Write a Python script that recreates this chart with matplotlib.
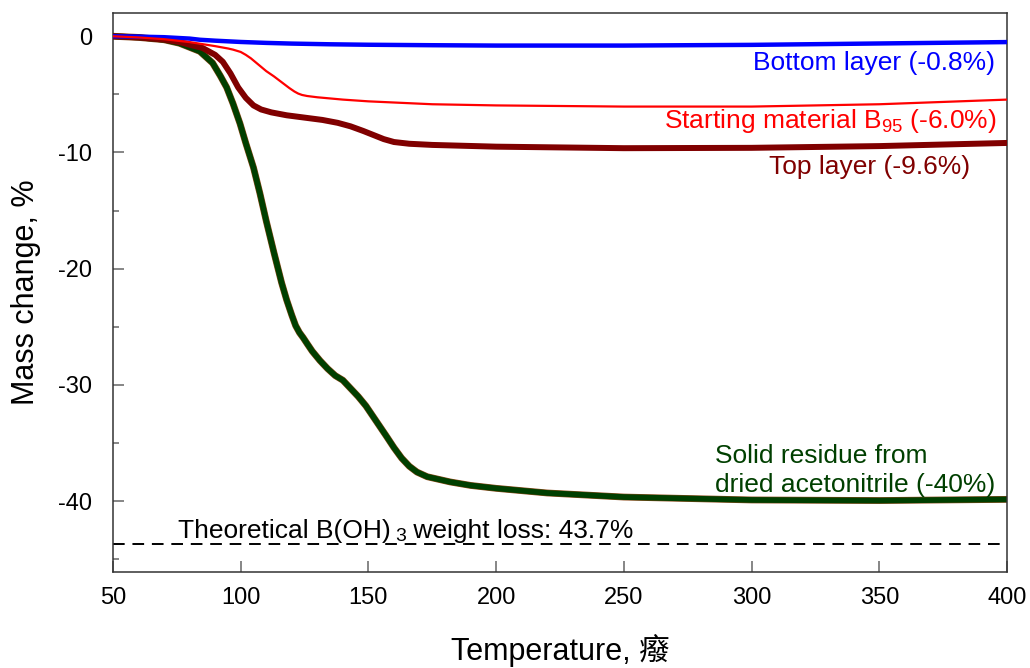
import matplotlib
matplotlib.use("Agg")
import matplotlib.pyplot as plt
from matplotlib.ticker import MultipleLocator

plt.rcParams['font.family'] = ['Liberation Sans', 'Noto Sans CJK TC', 'DejaVu Sans']
plt.rcParams['mathtext.fontset'] = 'custom'
plt.rcParams['mathtext.rm'] = 'Liberation Sans'
plt.rcParams['mathtext.it'] = 'Liberation Sans:italic'
plt.rcParams['mathtext.default'] = 'rm'

# Thermogravimetric curves: temperature (°C) vs mass change (%)
bottom_T = [50, 60, 70, 80, 84, 90, 100, 110, 120, 135, 150, 175, 200, 250, 300, 350, 400]
bottom_m = [0, -0.03, -0.08, -0.2, -0.3, -0.38, -0.49, -0.57, -0.63, -0.69, -0.73, -0.77, -0.8, -0.8, -0.74, -0.62, -0.5]

start_T = [50, 60, 70, 80, 90, 95, 97, 100, 102, 104, 107, 110, 113, 116, 119, 121, 122.5,
           124, 126, 130, 140, 150, 175, 200, 250, 300, 350, 400]
start_m = [0, -0.1, -0.25, -0.5, -0.85, -1.05, -1.15, -1.35, -1.6, -1.9, -2.45, -3.0, -3.45,
           -3.95, -4.45, -4.75, -4.93, -5.05, -5.14, -5.25, -5.45, -5.6, -5.85, -5.95,
           -6.05, -6.05, -5.85, -5.45]

top_T = [50, 60, 70, 76, 85, 90, 93, 96, 99, 102, 105, 108, 112, 118, 125, 132, 138, 143,
         148, 152, 156, 160, 166, 175, 200, 250, 300, 350, 400]
top_m = [0, -0.1, -0.28, -0.5, -1.0, -1.6, -2.2, -3.2, -4.4, -5.3, -5.95, -6.3, -6.55, -6.8,
         -7.0, -7.2, -7.45, -7.75, -8.15, -8.5, -8.85, -9.1, -9.25, -9.35, -9.5, -9.63,
         -9.6, -9.45, -9.18]

resid_T = [50, 60, 70, 76, 80, 84, 89, 92, 94.5, 97, 99.7, 102, 105, 107.5, 110, 113, 116,
           118, 120, 121.5, 123, 124.5, 126, 128, 131, 134, 137, 140, 143, 146, 149, 153,
           157, 160, 163, 166, 169, 173, 182, 190, 200, 220, 250, 300, 350, 400]
resid_m = [0, -0.1, -0.3, -0.6, -0.95, -1.3, -2.3, -3.4, -4.4, -5.8, -7.5, -9.2, -11.3,
           -13.5, -15.9, -18.6, -21.2, -22.7, -24.0, -24.9, -25.5, -25.95, -26.45, -27.1,
           -27.9, -28.6, -29.2, -29.6, -30.3, -31.0, -31.8, -33.1, -34.4, -35.4, -36.3,
           -37.0, -37.5, -37.9, -38.35, -38.65, -38.9, -39.3, -39.65, -39.9, -39.95, -39.85]

theoretical_loss = 43.7

x_ticks = [50, 100, 150, 200, 250, 300, 350, 400]
y_ticks = [0, -10, -20, -30, -40]

fig = plt.figure(figsize=(10.30, 6.68), dpi=100)
ax = fig.add_axes([0.1097, 0.1437, 0.868, 0.8368])

ax.plot(bottom_T, bottom_m, color='#0000FF', lw=3.2, solid_capstyle='round', zorder=4)
ax.plot(start_T, start_m, color='#FF0000', lw=1.6, solid_capstyle='round', zorder=5)
ax.plot(top_T, top_m, color='#800000', lw=4.3, solid_capstyle='round', zorder=3)
ax.plot(resid_T, resid_m, color='#8B4A1A', lw=4.9, solid_capstyle='round', zorder=2)
ax.plot(resid_T, resid_m, color='#003F00', lw=4.1, solid_capstyle='round', zorder=2.5)

ax.axhline(-theoretical_loss, color='black', lw=1.4, ls=(0, (6, 4)), zorder=1)

ax.set_xlim(50, 400)
ax.set_ylim(-46.1, 2.0)
ax.set_xticks(x_ticks)
ax.set_xticklabels([str(v) for v in x_ticks])
ax.set_yticks(y_ticks)
ax.set_yticklabels([str(v) for v in y_ticks])
ax.yaxis.set_minor_locator(MultipleLocator(5))

ax.tick_params(axis='both', which='both', direction='in', colors='#666666',
               labelcolor='black', labelsize=17)
ax.tick_params(axis='x', which='major', length=8, width=1.1, pad=11)
ax.tick_params(axis='y', which='major', length=8, width=1.1, pad=15)
ax.tick_params(axis='y', which='minor', length=4.5, width=1.1)
ax.tick_params(top=False, right=False, which='both')

for sp in ax.spines.values():
    sp.set_color('#333333')
    sp.set_linewidth(1.1)

ax.set_xlabel('Temperature, 癈', fontsize=22, labelpad=18)
ax.set_ylabel('Mass change, %', fontsize=22, labelpad=12)

fs = 19
ax.text(395.3, -2.86, 'Bottom layer (-0.8%)', color='#0000FF', fontsize=fs,
        ha='right', va='baseline')
ax.text(396.1, -7.91, r'Starting material B$_{\mathrm{95}}$ (-6.0%)', color='#FF0000',
        fontsize=fs, ha='right', va='baseline')
ax.text(385.5, -11.81, 'Top layer (-9.6%)', color='#800000', fontsize=fs,
        ha='right', va='baseline')
ax.text(285.7, -36.7, 'Solid residue from', color='#003F00', fontsize=fs,
        ha='left', va='baseline')
ax.text(285.7, -39.2, 'dried acetonitrile (-40%)', color='#003F00', fontsize=fs,
        ha='left', va='baseline')

# Theoretical loss label, with the subscript chained after the formula
t_main = ax.text(75.45, -43.2, 'Theoretical B(OH)', color='black', fontsize=fs,
                 ha='left', va='baseline')
t_sub = ax.annotate('3', xy=(1, 0), xycoords=t_main, xytext=(3, -1),
                    textcoords='offset points', color='black', fontsize=14,
                    ha='left', va='bottom')
ax.annotate(' weight loss: %.1f%%' % theoretical_loss, xy=(1, 0), xycoords=(t_sub, t_main),
            color='black', fontsize=fs, ha='left', va='bottom')

fig.savefig('out.png', dpi=100)
